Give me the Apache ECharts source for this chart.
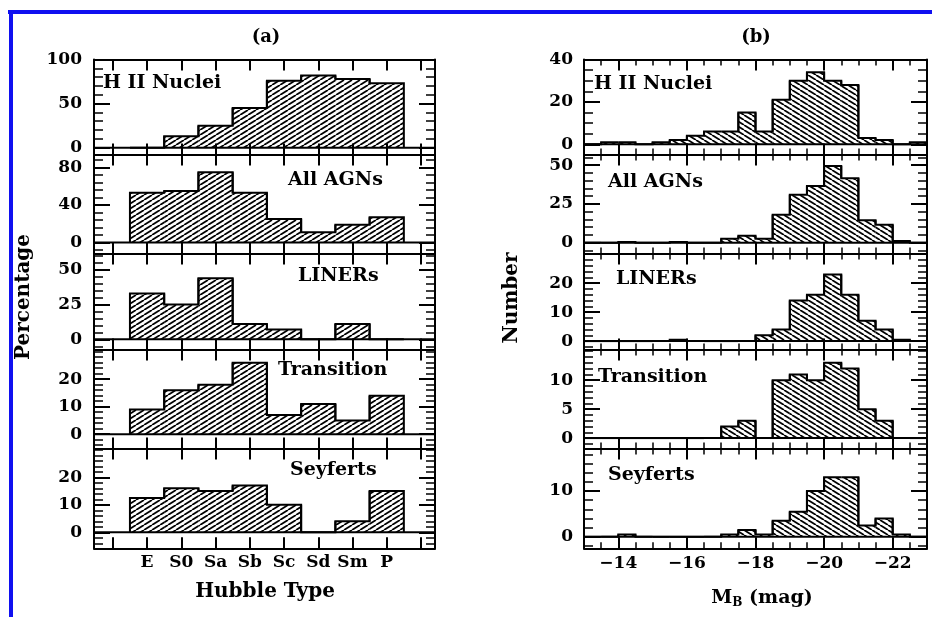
<!DOCTYPE html>
<html>
<head>
<meta charset="utf-8">
<script src="https://cdn.jsdelivr.net/npm/echarts@6/dist/echarts.min.js"></script>
<style>
  html, body { margin: 0; padding: 0; background: #fff; }
  #chart { width: 932px; height: 617px; }
</style>
</head>
<body>
<div id="chart"></div>
<script>
// ---- (a) Hubble-type distribution, percentage of galaxies of each type ----
const hubbleTypes    = ['E', 'S0', 'Sa', 'Sb', 'Sc', 'Sd', 'Sm', 'P'];
const pctHII         = [0, 13, 25, 45, 76, 82, 78, 73];
const pctAllAGN      = [53, 55, 75, 53, 25, 11, 19, 27];
const pctLINER       = [33, 25, 44, 11, 7, 0, 11, 0];
const pctTransition  = [9, 16, 18, 26, 7, 11, 5, 14];
const pctSeyfert     = [12.5, 16, 15, 17, 10, 0, 4, 15];

// ---- (b) absolute blue magnitude, number of galaxies per 0.5 mag bin ----
const magEdges = [-13, -13.5, -14, -14.5, -15, -15.5, -16, -16.5, -17, -17.5, -18,
                  -18.5, -19, -19.5, -20, -20.5, -21, -21.5, -22, -22.5, -23];
const nHII        = [0, 1, 1, 0, 1, 2, 4, 6, 6, 15, 6, 21, 30, 34, 30, 28, 3, 2, 0, 1];
const nAllAGN     = [0, 0, 0.5, 0, 0, 0.5, 0, 0, 2.5, 4.5, 2.5, 18, 31, 36.5, 49.5, 41.5, 14.5, 11.5, 1, 0];
const nLINER      = [0, 0, 0, 0, 0, 0.5, 0, 0, 0, 0, 2, 4, 14, 16, 23, 16, 7, 4, 0.5, 0];
const nTransition = [0, 0, 0, 0, 0, 0, 0, 0, 2, 3, 0, 10, 11, 10, 13, 12, 5, 3, 0, 0];
const nSeyfert    = [0, 0, 0.5, 0, 0, 0, 0, 0, 0.5, 1.5, 0.5, 3.5, 5.5, 10, 13, 13, 2.5, 4, 0.5, 0];

// tick labels
const magTicks   = [-14, -16, -18, -20, -22];
const yTicksA    = [[0, 50, 100], [0, 40, 80], [0, 25, 50], [0, 10, 20], [0, 10, 20]];
const yTicksB    = [[0, 20, 40], [0, 25, 50], [0, 10, 20], [0, 5, 10], [0, 10]];
const panelNames = ['H II Nuclei', 'All AGNs', 'LINERs', 'Transition', 'Seyferts'];

// ---- layout ----
const FONT = '"DejaVu Serif", serif';
const BLUE = '#1010f0';
const colA = { left: 94, width: 341 };
const colB = { left: 584, width: 343 };
const panelTop = [59.5, 154.5, 253.5, 349.5, 448.5];
const panelBottom = 548.3;
const rangeA = [[-7.7, 100], [-11.7, 93.9], [-7.3, 61.7], [-5.2, 30.8], [-5.8, 30.5]];
const rangeB = [[-4.8, 40], [-7, 56.9], [-2.9, 30.2], [-1.8, 15.3], [-2.5, 19.3]];
const minorA = [10, 8, 5, 2, 2];
const minorB = [5, 5, 2, 1, 2];

function steps(lo, hi, step) {
  const out = [];
  for (let k = Math.ceil(lo / step - 1e-9); k * step <= hi + 1e-9; k++) out.push(+(k * step).toFixed(4));
  return out;
}

// diagonal hatching tile
function hatch(dir) {
  const w = 8, h = 5;
  const c = document.createElement('canvas');
  c.width = w; c.height = h;
  const ctx = c.getContext('2d');
  ctx.strokeStyle = '#000';
  ctx.lineWidth = 1.8;
  for (const dx of [-w, 0, w]) {
    ctx.beginPath();
    if (dir === '/') { ctx.moveTo(dx, h); ctx.lineTo(dx + w, 0); }
    else { ctx.moveTo(dx, 0); ctx.lineTo(dx + w, h); }
    ctx.stroke();
  }
  return { image: c, repeat: 'repeat' };
}
const hatchA = hatch('/');
const hatchB = hatch('\\');

// step-outlined histogram bin: hatched body, top edge and both vertical steps
function makeRender(pattern) {
  return function (params, api) {
    const x0 = api.value(0), x1 = api.value(1), v = api.value(2);
    const prev = api.value(3), next = api.value(4);
    const a = api.coord([x0, 0]), b = api.coord([x1, v]);
    const pPrev = api.coord([x0, prev]), pNext = api.coord([x1, next]);
    const children = [];
    if (v > 0) {
      children.push({
        type: 'rect',
        shape: { x: Math.min(a[0], b[0]), y: b[1], width: Math.abs(b[0] - a[0]), height: a[1] - b[1] },
        style: { fill: pattern }
      });
    }
    children.push({
      type: 'polyline',
      shape: { points: [[a[0], pPrev[1]], [a[0], b[1]], [b[0], b[1]], [b[0], pNext[1]]] },
      style: { stroke: '#000', lineWidth: 2, fill: null }
    });
    return { type: 'group', children };
  };
}

const grids = [], xAxes = [], yAxes = [], series = [];
const labelFont = { color: '#000', fontFamily: FONT, fontWeight: 'bold', fontSize: 17 };

function buildPanel(col, row, cfg) {
  const g = grids.length;
  const bottom = row < 4 ? panelTop[row + 1] : panelBottom;
  grids.push({ left: col.left, width: col.width, top: panelTop[row], height: bottom - panelTop[row] });
  const isLast = row === 4;

  const xBase = { type: 'value', gridIndex: g, min: cfg.xmin, max: cfg.xmax, inverse: !!cfg.inverse, splitLine: { show: false } };
  const xi = xAxes.length;
  ['bottom', 'top'].forEach(pos => {
    xAxes.push(Object.assign({}, xBase, {
      position: pos,
      axisLine: { show: true, onZero: false, lineStyle: { color: '#000', width: 2 } },
      axisTick: { show: true, inside: true, length: 11, customValues: cfg.xMajor, lineStyle: { color: '#000', width: 2 } },
      axisLabel: (pos === 'bottom' && isLast)
        ? Object.assign({ show: true, customValues: cfg.xLabelVals, formatter: cfg.xFmt, margin: cfg.xMargin }, labelFont)
        : { show: false }
    }));
    if (cfg.xMinor) {
      xAxes.push(Object.assign({}, xBase, {
        position: pos,
        axisLine: { show: false, onZero: false },
        axisTick: { show: true, inside: true, length: 6, customValues: cfg.xMinor, lineStyle: { color: '#000', width: 1.5 } },
        axisLabel: { show: false }
      }));
    }
  });

  const yBase = { type: 'value', gridIndex: g, min: cfg.yrange[0], max: cfg.yrange[1], splitLine: { show: false } };
  const yi = yAxes.length;
  ['left', 'right'].forEach(pos => {
    yAxes.push(Object.assign({}, yBase, {
      position: pos,
      axisLine: { show: true, onZero: false, lineStyle: { color: '#000', width: 2 } },
      axisTick: { show: true, inside: true, length: 16, customValues: cfg.yMajor, lineStyle: { color: '#000', width: 2 } },
      axisLabel: pos === 'left'
        ? Object.assign({ show: true, customValues: cfg.yMajor, margin: cfg.yMargin }, labelFont)
        : { show: false }
    }));
    yAxes.push(Object.assign({}, yBase, {
      position: pos,
      axisLine: { show: false, onZero: false },
      axisTick: { show: true, inside: true, length: 9, customValues: steps(cfg.yrange[0], cfg.yrange[1], cfg.yMinorStep), lineStyle: { color: '#000', width: 1.5 } },
      axisLabel: { show: false }
    }));
  });

  // zero baseline across the whole panel
  series.push({
    type: 'line',
    xAxisIndex: xi,
    yAxisIndex: yi,
    silent: true,
    animation: false,
    showSymbol: false,
    symbol: 'none',
    lineStyle: { color: '#000', width: 2 },
    data: [[cfg.xmin, 0], [cfg.xmax, 0]]
  });

  series.push({
    type: 'custom',
    xAxisIndex: xi,
    yAxisIndex: yi,
    silent: true,
    animation: false,
    encode: { x: [0, 1], y: 2 },
    data: cfg.items,
    renderItem: makeRender(cfg.pattern)
  });
}

const pctSets = [pctHII, pctAllAGN, pctLINER, pctTransition, pctSeyfert];
const numSets = [nHII, nAllAGN, nLINER, nTransition, nSeyfert];

pctSets.forEach((vals, row) => {
  buildPanel(colA, row, {
    xmin: -1.55, xmax: 8.41,
    xMajor: steps(-1, 8, 1),
    xLabelVals: hubbleTypes.map((t, i) => i),
    xFmt: v => hubbleTypes[Math.round(v)],
    xMargin: 6,
    yrange: rangeA[row], yMajor: yTicksA[row], yMinorStep: minorA[row], yMargin: 12,
    pattern: hatchA,
    items: hubbleTypes.map((t, i) => [i - 0.5, i + 0.5, vals[i],
      i > 0 ? vals[i - 1] : 0, i < vals.length - 1 ? vals[i + 1] : 0])
  });
});

numSets.forEach((vals, row) => {
  buildPanel(colB, row, {
    xmin: -23, xmax: -13, inverse: true,
    xMajor: magTicks,
    xMinor: steps(-23, -13, 0.5),
    xLabelVals: magTicks,
    xFmt: v => '\u2212' + Math.abs(v),
    xMargin: 7,
    yrange: rangeB[row], yMajor: yTicksB[row], yMinorStep: minorB[row], yMargin: 11,
    pattern: hatchB,
    items: vals.map((v, i) => [magEdges[i], magEdges[i + 1], v,
      i > 0 ? vals[i - 1] : 0, i < vals.length - 1 ? vals[i + 1] : 0])
  });
});

function txt(x, y, text, size, align, extra) {
  return Object.assign({
    type: 'text', x, y, silent: true,
    style: {
      text, fill: '#000',
      font: 'bold ' + size + 'px ' + FONT,
      align: align, textAlign: align,
      verticalAlign: 'middle', textVerticalAlign: 'middle'
    }
  }, extra || {});
}

const namePosA = [[103, 83], [288, 180], [298, 276], [278, 370], [290, 470]];
const namePosB = [[594, 84], [608, 182], [616, 279], [598, 377], [608, 475]];

const graphic = [
  { type: 'rect', silent: true, shape: { x: 8, y: 10, width: 924, height: 4 }, style: { fill: BLUE } },
  { type: 'rect', silent: true, shape: { x: 9, y: 10, width: 4, height: 607 }, style: { fill: BLUE } },
  txt(266, 37, '(a)', 18, 'center'),
  txt(756, 37, '(b)', 18, 'center'),
  txt(265, 592, 'Hubble Type', 20, 'center'),
  txt(24, 297, 'Percentage', 20, 'center', { rotation: Math.PI / 2 }),
  txt(512, 298, 'Number', 20, 'center', { rotation: Math.PI / 2 }),
  {
    type: 'text', x: 762, y: 598, silent: true,
    style: {
      text: '{m|M}{s|B}{m| (mag)}',
      align: 'center', textAlign: 'center',
      verticalAlign: 'middle', textVerticalAlign: 'middle',
      rich: {
        m: { font: 'bold 19px ' + FONT, fill: '#000', color: '#000', lineHeight: 22 },
        s: { font: 'bold 12px ' + FONT, fill: '#000', color: '#000', lineHeight: 22, padding: [10, 0, 0, 0] }
      }
    }
  }
];
panelNames.forEach((name, i) => {
  graphic.push(txt(namePosA[i][0], namePosA[i][1], name, 19, 'left'));
  graphic.push(txt(namePosB[i][0], namePosB[i][1], name, 19, 'left'));
});

const chart = echarts.init(document.getElementById('chart'), null, { renderer: 'canvas' });
chart.setOption({
  backgroundColor: '#fff',
  animation: false,
  grid: grids,
  xAxis: xAxes,
  yAxis: yAxes,
  series: series,
  graphic: graphic
});
</script>
</body>
</html>
